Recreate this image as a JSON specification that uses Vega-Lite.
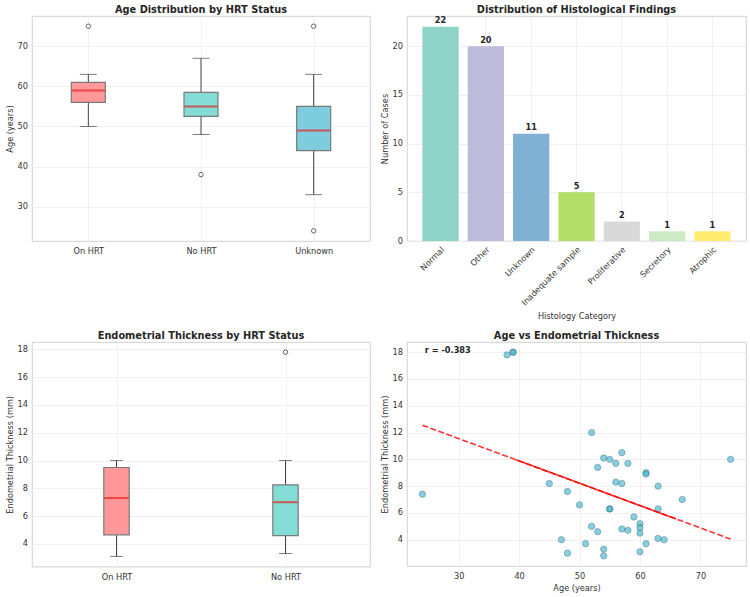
{
  "$schema": "https://vega.github.io/schema/vega-lite/v6.json",
  "background": "white",
  "padding": {"left": 4, "top": 4, "right": 4, "bottom": 4},
  "config": {
    "font": "DejaVu Sans",
    "view": {"stroke": "#d9d9d9", "strokeWidth": 1.2},
    "axis": {
      "domain": false,
      "ticks": false,
      "grid": true,
      "gridColor": "#ececec",
      "gridWidth": 0.8,
      "labelFont": "DejaVu Sans",
      "labelFontSize": 8.2,
      "labelColor": "#333333",
      "labelPadding": 4.5,
      "labelOverlap": false,
      "titleFont": "DejaVu Sans",
      "titleFontSize": 8.2,
      "titleFontWeight": "normal",
      "titleColor": "#333333",
      "titlePadding": 2.5
    },
    "axisX": {"labelPadding": 6.5},
    "title": {"font": "DejaVu Sans", "fontSize": 9.8, "fontWeight": "bold", "color": "#262626", "offset": 1},
    "concat": {"spacing": 8}
  },
  "datasets": {
    "ageBoxes": [
      {"group": "On HRT", "low": 50, "q1": 56, "median": 59, "q3": 61, "high": 63},
      {"group": "No HRT", "low": 48, "q1": 52.5, "median": 55, "q3": 58.5, "high": 67},
      {"group": "Unknown", "low": 33, "q1": 44, "median": 49, "q3": 55, "high": 63}
    ],
    "ageOutliers": [
      {"group": "On HRT", "age": 75},
      {"group": "No HRT", "age": 38},
      {"group": "Unknown", "age": 75},
      {"group": "Unknown", "age": 24}
    ],
    "histology": [
      {"category": "Normal", "count": 22},
      {"category": "Other", "count": 20},
      {"category": "Unknown", "count": 11},
      {"category": "Inadequate sample", "count": 5},
      {"category": "Proliferative", "count": 2},
      {"category": "Secretory", "count": 1},
      {"category": "Atrophic", "count": 1}
    ],
    "thickBoxes": [
      {"group": "On HRT", "low": 3.1, "q1": 4.65, "median": 7.3, "q3": 9.5, "high": 10.0},
      {"group": "No HRT", "low": 3.3, "q1": 4.6, "median": 7.0, "q3": 8.25, "high": 10.0}
    ],
    "thickOutliers": [
      {"group": "No HRT", "thickness": 17.8}
    ],
    "scatter": [
      {"age": 24, "thickness": 7.4}, {"age": 38, "thickness": 17.8}, {"age": 39, "thickness": 18.0},
      {"age": 39, "thickness": 18.0}, {"age": 45, "thickness": 8.2}, {"age": 47, "thickness": 4.0},
      {"age": 48, "thickness": 7.6}, {"age": 48, "thickness": 3.0}, {"age": 50, "thickness": 6.6},
      {"age": 51, "thickness": 3.7}, {"age": 52, "thickness": 12.0}, {"age": 52, "thickness": 5.0},
      {"age": 53, "thickness": 9.4}, {"age": 53, "thickness": 4.6}, {"age": 54, "thickness": 10.1},
      {"age": 54, "thickness": 3.3}, {"age": 54, "thickness": 2.8}, {"age": 55, "thickness": 10.0},
      {"age": 55, "thickness": 6.3}, {"age": 55, "thickness": 6.3}, {"age": 56, "thickness": 9.7},
      {"age": 56, "thickness": 8.3}, {"age": 57, "thickness": 10.5}, {"age": 57, "thickness": 8.2},
      {"age": 57, "thickness": 4.8}, {"age": 58, "thickness": 9.7}, {"age": 58, "thickness": 4.7},
      {"age": 59, "thickness": 5.7}, {"age": 60, "thickness": 5.2}, {"age": 60, "thickness": 4.9},
      {"age": 60, "thickness": 4.5}, {"age": 60, "thickness": 3.1}, {"age": 61, "thickness": 9.0},
      {"age": 61, "thickness": 8.9}, {"age": 61, "thickness": 3.7}, {"age": 63, "thickness": 8.0},
      {"age": 63, "thickness": 6.3}, {"age": 63, "thickness": 4.1}, {"age": 64, "thickness": 4.0},
      {"age": 67, "thickness": 7.0}, {"age": 75, "thickness": 10.0}
    ],
    "trend": [
      {"age": 24, "fit": 12.55, "part": "full"},
      {"age": 75, "fit": 4.05, "part": "full"},
      {"age": 39.5, "fit": 9.97, "part": "dense"},
      {"age": 66, "fit": 5.55, "part": "dense"}
    ],
    "note": [
      {"age": 24.4, "thickness": 18.12, "label": "r = -0.383"}
    ]
  },
  "resolve": {"scale": {"color": "independent", "x": "independent", "y": "independent"}},
  "spacing": 9,
  "vconcat": [
    {
      "resolve": {"scale": {"color": "independent", "x": "independent", "y": "independent"}},
      "hconcat": [
        {
          "title": "Age Distribution by HRT Status",
          "width": 338,
          "height": 225,
          "layer": [
            {
              "data": {"name": "ageBoxes"},
              "mark": {"type": "rule", "color": "#444444", "strokeWidth": 1},
              "encoding": {
                "x": {"field": "group", "type": "nominal", "sort": ["On HRT", "No HRT", "Unknown"],
                      "scale": {"type": "point", "padding": 0.5},
                      "axis": {"title": null, "labelAngle": 0}},
                "y": {"field": "low", "type": "quantitative",
                      "scale": {"domain": [21.45, 77.55], "nice": false, "zero": false},
                      "axis": {"title": "Age (years)", "values": [30, 40, 50, 60, 70]}},
                "y2": {"field": "q1"}
              }
            },
            {
              "data": {"name": "ageBoxes"},
              "mark": {"type": "rule", "color": "#444444", "strokeWidth": 1},
              "encoding": {
                "x": {"field": "group", "type": "nominal", "sort": ["On HRT", "No HRT", "Unknown"]},
                "y": {"field": "q3", "type": "quantitative", "axis": {"title": "Age (years)", "values": [30, 40, 50, 60, 70]}},
                "y2": {"field": "high"}
              }
            },
            {
              "data": {"name": "ageBoxes"},
              "mark": {"type": "tick", "color": "#444444", "size": 17, "thickness": 1, "orient": "horizontal"},
              "encoding": {
                "x": {"field": "group", "type": "nominal", "sort": ["On HRT", "No HRT", "Unknown"]},
                "y": {"field": "low", "type": "quantitative", "axis": {"title": "Age (years)", "values": [30, 40, 50, 60, 70]}}
              }
            },
            {
              "data": {"name": "ageBoxes"},
              "mark": {"type": "tick", "color": "#444444", "size": 17, "thickness": 1, "orient": "horizontal"},
              "encoding": {
                "x": {"field": "group", "type": "nominal", "sort": ["On HRT", "No HRT", "Unknown"]},
                "y": {"field": "high", "type": "quantitative", "axis": {"title": "Age (years)", "values": [30, 40, 50, 60, 70]}}
              }
            },
            {
              "data": {"name": "ageBoxes"},
              "mark": {"type": "bar", "size": 34, "stroke": "#7a7a7a", "strokeWidth": 1.2},
              "encoding": {
                "x": {"field": "group", "type": "nominal", "sort": ["On HRT", "No HRT", "Unknown"]},
                "y": {"field": "q1", "type": "quantitative", "axis": {"title": "Age (years)", "values": [30, 40, 50, 60, 70]}},
                "y2": {"field": "q3"},
                "color": {"field": "group", "type": "nominal", "legend": null,
                          "scale": {"domain": ["On HRT", "No HRT", "Unknown"], "range": ["#ff9898", "#83dcd6", "#7dcddf"]}}
              }
            },
            {
              "data": {"name": "ageBoxes"},
              "mark": {"type": "tick", "color": "#e8221e", "size": 33, "thickness": 2, "orient": "horizontal"},
              "encoding": {
                "x": {"field": "group", "type": "nominal", "sort": ["On HRT", "No HRT", "Unknown"]},
                "y": {"field": "median", "type": "quantitative", "axis": {"title": "Age (years)", "values": [30, 40, 50, 60, 70]}}
              }
            },
            {
              "data": {"name": "ageOutliers"},
              "mark": {"type": "point", "shape": "circle", "filled": false, "color": "#262626", "size": 20, "strokeWidth": 1},
              "encoding": {
                "x": {"field": "group", "type": "nominal", "sort": ["On HRT", "No HRT", "Unknown"]},
                "y": {"field": "age", "type": "quantitative", "axis": {"title": "Age (years)", "values": [30, 40, 50, 60, 70]}}
              }
            }
          ]
        },
        {
          "title": "Distribution of Histological Findings",
          "width": 339,
          "height": 225,
          "data": {"name": "histology"},
          "encoding": {
            "x": {"field": "category", "type": "nominal", "sort": null,
                  "scale": {"paddingInner": 0.2, "paddingOuter": 0.34},
                  "axis": {"title": "Histology Category", "labelAngle": -45, "labelAlign": "right", "labelBaseline": "top", "labelPadding": 4.5, "bandPosition": 0.5, "titlePadding": 6}},
            "y": {"field": "count", "type": "quantitative",
                  "scale": {"domain": [0, 23.1], "nice": false},
                  "axis": {"title": "Number of Cases", "values": [0, 5, 10, 15, 20]}}
          },
          "layer": [
            {
              "mark": {"type": "bar"},
              "encoding": {
                "color": {"field": "category", "type": "nominal", "legend": null,
                          "scale": {"domain": ["Normal", "Other", "Unknown", "Inadequate sample", "Proliferative", "Secretory", "Atrophic"],
                                    "range": ["#8dd3c7", "#bebada", "#80b1d3", "#b3de69", "#d9d9d9", "#ccebc5", "#ffed6f"]}}
              }
            },
            {
              "mark": {"type": "text", "fontWeight": "bold", "fontSize": 8.2, "baseline": "bottom", "dy": -1.5, "color": "#262626"},
              "encoding": {"text": {"field": "count", "type": "quantitative"}}
            }
          ]
        }
      ]
    },
    {
      "resolve": {"scale": {"color": "independent", "x": "independent", "y": "independent"}},
      "hconcat": [
        {
          "title": "Endometrial Thickness by HRT Status",
          "width": 338,
          "height": 224.6,
          "layer": [
            {
              "data": {"name": "thickBoxes"},
              "mark": {"type": "rule", "color": "#444444", "strokeWidth": 1},
              "encoding": {
                "x": {"field": "group", "type": "nominal", "sort": ["On HRT", "No HRT"],
                      "scale": {"type": "point", "padding": 0.5},
                      "axis": {"title": null, "labelAngle": 0}},
                "y": {"field": "low", "type": "quantitative",
                      "scale": {"domain": [2.365, 18.535], "nice": false, "zero": false},
                      "axis": {"title": "Endometrial Thickness (mm)", "values": [4, 6, 8, 10, 12, 14, 16, 18]}},
                "y2": {"field": "q1"}
              }
            },
            {
              "data": {"name": "thickBoxes"},
              "mark": {"type": "rule", "color": "#444444", "strokeWidth": 1},
              "encoding": {
                "x": {"field": "group", "type": "nominal", "sort": ["On HRT", "No HRT"]},
                "y": {"field": "q3", "type": "quantitative", "axis": {"title": "Endometrial Thickness (mm)", "values": [4, 6, 8, 10, 12, 14, 16, 18]}},
                "y2": {"field": "high"}
              }
            },
            {
              "data": {"name": "thickBoxes"},
              "mark": {"type": "tick", "color": "#444444", "size": 12.7, "thickness": 1, "orient": "horizontal"},
              "encoding": {
                "x": {"field": "group", "type": "nominal", "sort": ["On HRT", "No HRT"]},
                "y": {"field": "low", "type": "quantitative", "axis": {"title": "Endometrial Thickness (mm)", "values": [4, 6, 8, 10, 12, 14, 16, 18]}}
              }
            },
            {
              "data": {"name": "thickBoxes"},
              "mark": {"type": "tick", "color": "#444444", "size": 12.7, "thickness": 1, "orient": "horizontal"},
              "encoding": {
                "x": {"field": "group", "type": "nominal", "sort": ["On HRT", "No HRT"]},
                "y": {"field": "high", "type": "quantitative", "axis": {"title": "Endometrial Thickness (mm)", "values": [4, 6, 8, 10, 12, 14, 16, 18]}}
              }
            },
            {
              "data": {"name": "thickBoxes"},
              "mark": {"type": "bar", "size": 25.4, "stroke": "#7a7a7a", "strokeWidth": 1.2},
              "encoding": {
                "x": {"field": "group", "type": "nominal", "sort": ["On HRT", "No HRT"]},
                "y": {"field": "q1", "type": "quantitative", "axis": {"title": "Endometrial Thickness (mm)", "values": [4, 6, 8, 10, 12, 14, 16, 18]}},
                "y2": {"field": "q3"},
                "color": {"field": "group", "type": "nominal", "legend": null,
                          "scale": {"domain": ["On HRT", "No HRT"], "range": ["#ff9898", "#83dcd6"]}}
              }
            },
            {
              "data": {"name": "thickBoxes"},
              "mark": {"type": "tick", "color": "#e8221e", "size": 24.5, "thickness": 2, "orient": "horizontal"},
              "encoding": {
                "x": {"field": "group", "type": "nominal", "sort": ["On HRT", "No HRT"]},
                "y": {"field": "median", "type": "quantitative", "axis": {"title": "Endometrial Thickness (mm)", "values": [4, 6, 8, 10, 12, 14, 16, 18]}}
              }
            },
            {
              "data": {"name": "thickOutliers"},
              "mark": {"type": "point", "shape": "circle", "filled": false, "color": "#262626", "size": 20, "strokeWidth": 1},
              "encoding": {
                "x": {"field": "group", "type": "nominal", "sort": ["On HRT", "No HRT"]},
                "y": {"field": "thickness", "type": "quantitative", "axis": {"title": "Endometrial Thickness (mm)", "values": [4, 6, 8, 10, 12, 14, 16, 18]}}
              }
            }
          ]
        },
        {
          "title": "Age vs Endometrial Thickness",
          "width": 339,
          "height": 224,
          "layer": [
            {
              "data": {"name": "scatter"},
              "mark": {"type": "point", "shape": "circle", "filled": true, "color": "#45b7d1", "opacity": 0.65, "stroke": "#1a4f5c", "strokeWidth": 0.6, "size": 40},
              "encoding": {
                "x": {"field": "age", "type": "quantitative",
                      "scale": {"domain": [21.45, 77.55], "nice": false, "zero": false},
                      "axis": {"title": "Age (years)", "values": [30, 40, 50, 60, 70], "titlePadding": 5}},
                "y": {"field": "thickness", "type": "quantitative",
                      "scale": {"domain": [2.04, 18.76], "nice": false, "zero": false},
                      "axis": {"title": "Endometrial Thickness (mm)", "values": [4, 6, 8, 10, 12, 14, 16, 18]}}
              }
            },
            {
              "data": {"name": "trend"},
              "transform": [{"filter": "datum.part === 'full'"}],
              "mark": {"type": "line", "color": "#ff0000", "opacity": 0.8, "strokeWidth": 1.6, "strokeDash": [6, 2.5]},
              "encoding": {
                "x": {"field": "age", "type": "quantitative", "axis": {"title": "Age (years)", "values": [30, 40, 50, 60, 70], "titlePadding": 5}},
                "y": {"field": "fit", "type": "quantitative", "axis": {"title": "Endometrial Thickness (mm)", "values": [4, 6, 8, 10, 12, 14, 16, 18]}}
              }
            },
            {
              "data": {"name": "trend"},
              "transform": [{"filter": "datum.part === 'dense'"}],
              "mark": {"type": "line", "color": "#ff0000", "opacity": 0.8, "strokeWidth": 1.6},
              "encoding": {
                "x": {"field": "age", "type": "quantitative", "axis": {"title": "Age (years)", "values": [30, 40, 50, 60, 70], "titlePadding": 5}},
                "y": {"field": "fit", "type": "quantitative", "axis": {"title": "Endometrial Thickness (mm)", "values": [4, 6, 8, 10, 12, 14, 16, 18]}}
              }
            },
            {
              "data": {"name": "note"},
              "mark": {"type": "text", "align": "left", "baseline": "middle", "fontWeight": "bold", "fontSize": 8.2, "color": "#262626"},
              "encoding": {
                "x": {"field": "age", "type": "quantitative", "axis": {"title": "Age (years)", "values": [30, 40, 50, 60, 70], "titlePadding": 5}},
                "y": {"field": "thickness", "type": "quantitative", "axis": {"title": "Endometrial Thickness (mm)", "values": [4, 6, 8, 10, 12, 14, 16, 18]}},
                "text": {"field": "label"}
              }
            }
          ]
        }
      ]
    }
  ]
}
